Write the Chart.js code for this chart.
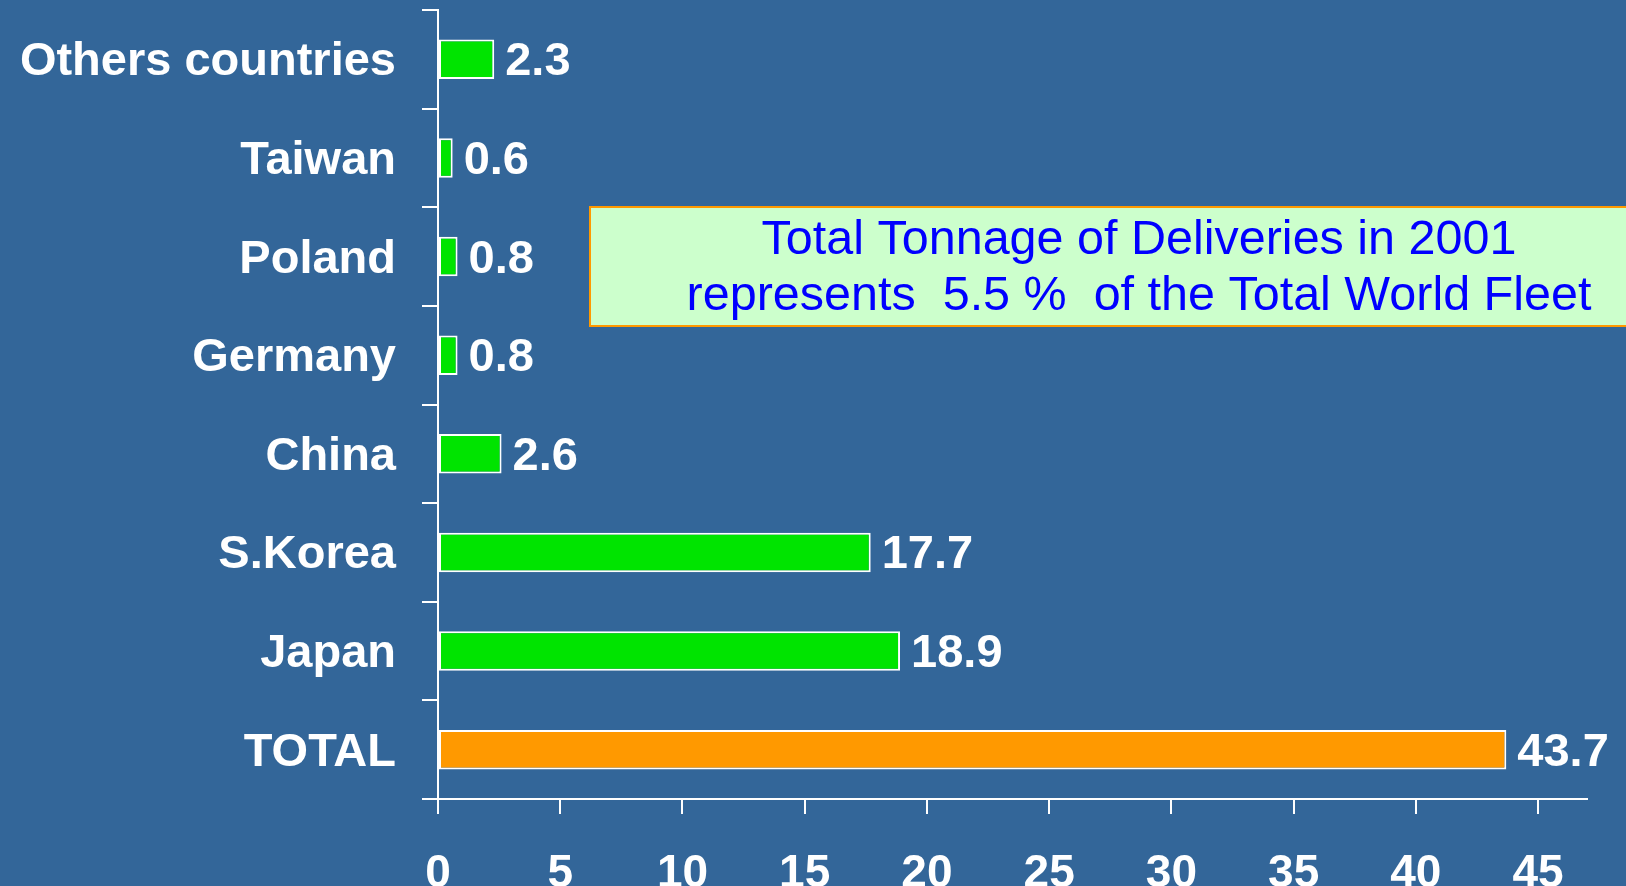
<!DOCTYPE html>
<html>
<head>
<meta charset="utf-8">
<script src="https://cdn.jsdelivr.net/npm/chart.js@4/dist/chart.umd.min.js"></script>
<style>
  html, body { margin: 0; padding: 0; background: #336699; overflow: hidden; }
  #wrap { width: 1626px; height: 886px; }
</style>
</head>
<body>
<div id="wrap"><canvas id="c" width="1626" height="886"></canvas></div>
<script>
// ---- data ----
const categories = ['Others countries', 'Taiwan', 'Poland', 'Germany', 'China', 'S.Korea', 'Japan', 'TOTAL'];
const values = [2.3, 0.6, 0.8, 0.8, 2.6, 17.7, 18.9, 43.7];
const xTickValues = [0, 5, 10, 15, 20, 25, 30, 35, 40, 45];
const noteLines = ['Total Tonnage of Deliveries in 2001', 'represents  5.5 %  of the Total World Fleet'];

// ---- styles ----
const FONT = '"Liberation Sans", Arial, Helvetica, sans-serif';
const BG = '#336699';
const GREEN = '#00E400';
const ORANGE = '#FF9900';

const bgPlugin = {
  id: 'bg',
  beforeDraw(chart) {
    const ctx = chart.ctx;
    ctx.save();
    ctx.fillStyle = BG;
    ctx.fillRect(0, 0, chart.width, chart.height);
    ctx.restore();
  }
};

const valueLabels = {
  id: 'valueLabels',
  afterDatasetsDraw(chart) {
    const ctx = chart.ctx;
    const meta = chart.getDatasetMeta(0);
    ctx.save();
    ctx.fillStyle = '#ffffff';
    ctx.font = 'bold 47px ' + FONT;
    ctx.textAlign = 'left';
    ctx.textBaseline = 'middle';
    meta.data.forEach((bar, i) => {
      ctx.fillText(values[i].toFixed(1), bar.x + 11, bar.y + 3);
    });
    ctx.restore();
  }
};

const noteBox = {
  id: 'noteBox',
  afterDraw(chart) {
    const ctx = chart.ctx;
    ctx.save();
    const left = 590, top = 207, right = 1700, bottom = 326;
    ctx.fillStyle = '#CCFFCC';
    ctx.fillRect(left, top, right - left, bottom - top);
    ctx.strokeStyle = ORANGE;
    ctx.lineWidth = 2;
    ctx.strokeRect(left, top, right - left, bottom - top);
    ctx.fillStyle = '#0000FF';
    ctx.font = '48.5px ' + FONT;
    ctx.textAlign = 'center';
    ctx.textBaseline = 'alphabetic';
    ctx.fillText(noteLines[0], 1139, 254);
    ctx.fillText(noteLines[1], 1139, 310);
    ctx.restore();
  }
};

new Chart(document.getElementById('c'), {
  type: 'bar',
  data: {
    labels: categories,
    datasets: [{
      data: values,
      backgroundColor: categories.map(c => c === 'TOTAL' ? ORANGE : GREEN),
      borderColor: '#ffffff',
      borderWidth: 2,
      borderSkipped: false,
      barPercentage: 0.4,
      categoryPercentage: 1.0
    }]
  },
  options: {
    indexAxis: 'y',
    responsive: false,
    animation: false,
    devicePixelRatio: 1,
    layout: { padding: { top: 10, right: 39, left: 0, bottom: 0 } },
    plugins: { legend: { display: false }, tooltip: { enabled: false } },
    scales: {
      y: {
        type: 'category',
        grid: { offset: true, drawOnChartArea: false, tickLength: 16, color: '#ffffff', lineWidth: 2 },
        border: { color: '#ffffff', width: 2 },
        ticks: { color: '#ffffff', font: { size: 47, weight: 'bold', family: FONT }, padding: 26, labelOffset: 3 },
        afterFit(s) { s.width = 438; s.paddingTop = 0; s.paddingBottom = 0; s.paddingLeft = 0; s.paddingRight = 0; }
      },
      x: {
        type: 'linear',
        min: 0,
        max: 47,
        grid: { drawOnChartArea: false, tickLength: 15, color: '#ffffff', lineWidth: 2 },
        border: { color: '#ffffff', width: 2 },
        ticks: { stepSize: 5, color: '#ffffff', font: { size: 46, weight: 'bold', family: FONT }, padding: 33 },
        afterBuildTicks(s) { s.ticks = xTickValues.map(v => ({ value: v })); },
        afterFit(s) { s.height = 87; s.paddingLeft = 0; s.paddingRight = 0; s.paddingTop = 0; s.paddingBottom = 0; }
      }
    }
  },
  plugins: [bgPlugin, valueLabels, noteBox]
});
</script>
</body>
</html>
